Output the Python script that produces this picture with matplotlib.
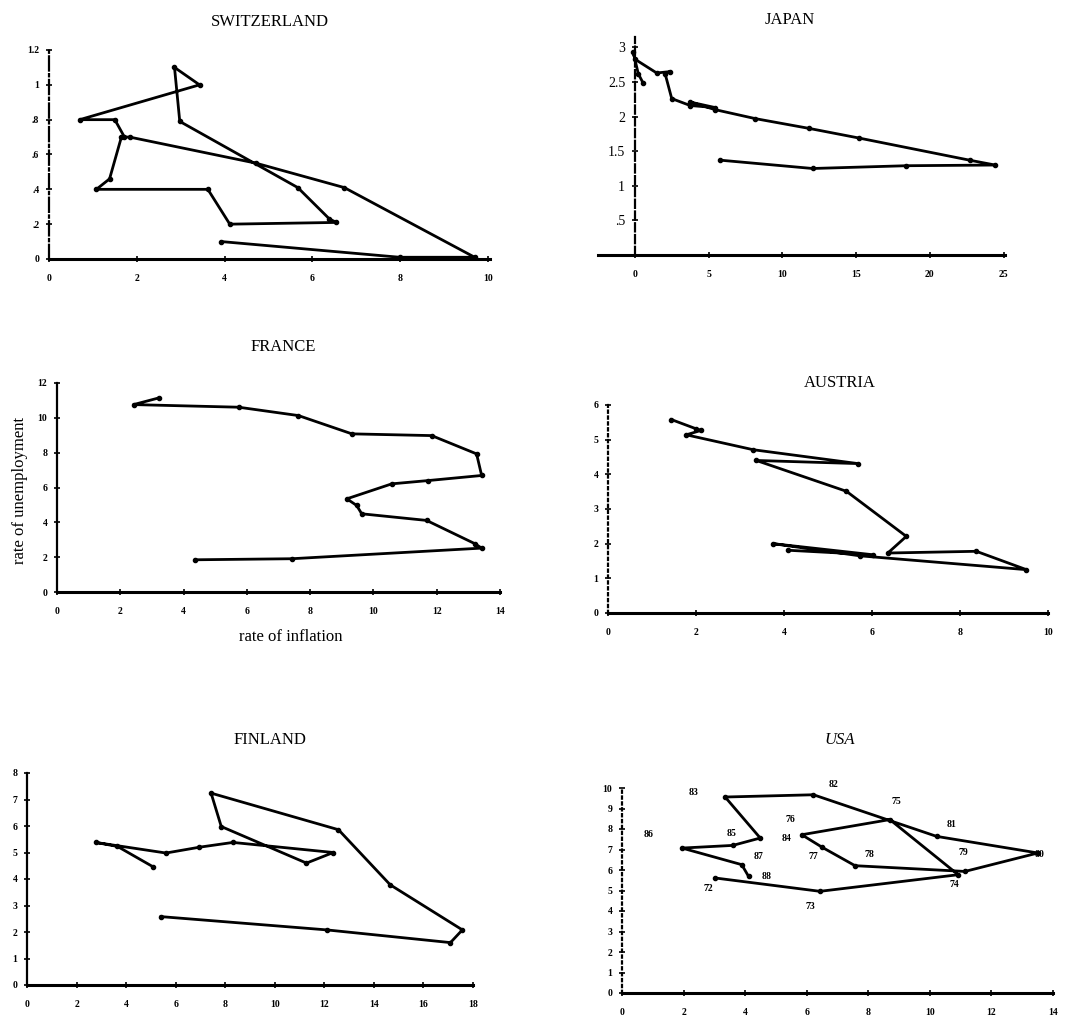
import matplotlib.pyplot as plt

plt.rcParams['font.family'] = ['Liberation Serif', 'DejaVu Serif']

# ── data (inflation %, unemployment %) ───────────────────────
swiss_infl = [3.93, 7.99, 9.70, 6.73, 4.72, 1.84, 1.65, 1.38, 1.08, 3.62, 4.12,
              6.55, 6.39, 5.67, 2.98, 2.86, 3.43, 0.70, 1.50, 1.72]
swiss_unemp = [0.10, 0.01, 0.01, 0.41, 0.55, 0.70, 0.70, 0.46, 0.40, 0.40, 0.20,
               0.21, 0.23, 0.41, 0.79, 1.10, 1.00, 0.80, 0.80, 0.70]

japan_infl = [5.80, 12.05, 18.4, 24.43, 22.7, 15.2, 11.8, 8.18, 5.45, 3.75, 5.45,
              3.75, 2.50, 2.05, 2.39, 1.48, 0.0, -0.11, 0.23, 0.57]
japan_unemp = [1.37, 1.25, 1.29, 1.30, 1.37, 1.69, 1.83, 1.97, 2.10, 2.21, 2.13,
               2.16, 2.26, 2.62, 2.65, 2.63, 2.83, 2.93, 2.62, 2.48]

france_infl = [4.37, 7.42, 13.42, 13.21, 11.68, 9.63, 9.47, 9.16, 10.58, 11.74,
               13.42, 13.26, 11.84, 9.32, 7.63, 5.74, 2.42, 3.21]
france_unemp = [1.85, 1.91, 2.52, 2.77, 4.11, 4.49, 4.97, 5.35, 6.21, 6.40,
                6.69, 7.93, 8.98, 9.08, 10.13, 10.61, 10.76, 11.14]

austria_infl = [4.09, 6.02, 3.75, 5.72, 9.51, 8.37, 6.36, 6.78, 5.42, 3.37, 5.68,
                3.30, 1.78, 2.12, 2.01, 1.44]
austria_unemp = [1.81, 1.68, 2.00, 1.65, 1.25, 1.78, 1.73, 2.21, 3.51, 4.40, 4.31,
                 4.71, 5.14, 5.27, 5.31, 5.58]

finland_infl = [5.07, 3.65, 2.77, 5.61, 6.96, 8.31, 12.36, 11.28, 7.84, 7.43,
                12.57, 14.66, 17.57, 17.09, 12.09, 5.41]
finland_unemp = [4.47, 5.23, 5.38, 4.98, 5.20, 5.38, 5.00, 4.60, 5.98, 7.24,
                 5.86, 3.78, 2.08, 1.60, 2.08, 2.58]

usa_years = ["72", "73", "74", "75", "76", "77", "78", "79", "80", "81", "82",
             "83", "84", "85", "86", "87", "88"]
usa_infl = [3.03, 6.43, 10.92, 8.70, 5.84, 6.50, 7.57, 11.14, 13.51, 10.22, 6.22,
            3.35, 4.49, 3.60, 1.95, 3.89, 4.11]
usa_unemp = [5.61, 4.96, 5.77, 8.46, 7.72, 7.11, 6.21, 5.93, 6.83, 7.64, 9.67,
             9.56, 7.56, 7.20, 7.07, 6.26, 5.69]
# where the year labels sit
usa_lab_x = [2.81, 6.11, 10.81, 8.92, 5.46, 6.22, 8.05, 11.08, 13.57, 10.70, 6.86,
             2.32, 5.35, 3.57, 0.86, 4.43, 4.70]
usa_lab_y = [5.12, 4.23, 5.28, 9.35, 8.46, 6.67, 6.75, 6.83, 6.75, 8.21, 10.16,
             9.76, 7.56, 7.80, 7.72, 6.67, 5.69]

W, H = 1066, 1019
fig = plt.figure(figsize=(W / 100, H / 100), dpi=100)


def panel(l, r, b, t, xlim, ylim, xticks, yticks, xlabs, ylabs, left_style='-'):
    ax = fig.add_axes([l / W, 1 - b / H, (r - l) / W, (b - t) / H])
    ax.set_xlim(*xlim)
    ax.set_ylim(*ylim)
    for s in ['top', 'right']:
        ax.spines[s].set_visible(False)
    ax.spines['bottom'].set_linewidth(2.2)
    ax.spines['left'].set_linewidth(1.6)
    ax.spines['left'].set_linestyle(left_style)
    ax.set_xticks(xticks)
    ax.set_xticklabels(xlabs, fontsize=7, fontweight='bold')
    ax.set_yticks(yticks)
    ax.set_yticklabels(ylabs, fontsize=7, fontweight='bold')
    ax.tick_params(axis='x', direction='inout', length=4, width=1.2, pad=9)
    ax.tick_params(axis='y', direction='inout', length=4, width=1.2, pad=5)
    ax.patch.set_alpha(0)
    return ax


def curve(ax, x, y):
    ax.plot(x, y, '-', color='black', lw=2.0, marker='o', ms=3,
            solid_joinstyle='round', clip_on=False)


# ── Switzerland ──────────────────────────────────────────────
ax = panel(49, 490, 259, 50, (0, 10.05), (0, 1.2), range(0, 11, 2),
           [0, .2, .4, .6, .8, 1.0, 1.2], ['0', '2', '4', '6', '8', '10'],
           ['0', '.2', '.4', '.6', '.8', '1', '1.2'], left_style='-.')
curve(ax, swiss_infl, swiss_unemp)
fig.text(270 / W, 1 - 22 / H, 'SWITZERLAND', ha='center', va='center', fontsize=12)

# ── Japan ────────────────────────────────────────────────────
ax = panel(598, 1005, 255, 37, (-2.5, 25.1), (0, 3.15), range(0, 26, 5),
           [0.5, 1, 1.5, 2, 2.5, 3], ['0', '5', '10', '15', '20', '25'],
           ['.5', '1', '1.5', '2', '2.5', '3'], left_style='--')
ax.spines['left'].set_position(('data', 0))
curve(ax, japan_infl, japan_unemp)
fig.text(790 / W, 1 - 20 / H, 'JAPAN', ha='center', va='center', fontsize=12)

# ── France ───────────────────────────────────────────────────
ax = panel(57, 500, 592, 383, (0, 14), (0, 12), range(0, 15, 2), range(0, 13, 2),
           [str(v) for v in range(0, 15, 2)], [str(v) for v in range(0, 13, 2)])
curve(ax, france_infl, france_unemp)
fig.text(283 / W, 1 - 347 / H, 'FRANCE', ha='center', va='center', fontsize=12)
fig.text(20 / W, 1 - 490 / H, 'rate of unemployment', rotation=90, ha='center',
         va='center', fontsize=12)
fig.text(291 / W, 1 - 637 / H, 'rate of inflation', ha='center', va='center',
         fontsize=12)

# ── Austria ──────────────────────────────────────────────────
ax = panel(608, 1048, 613, 405, (0, 10), (0, 6), range(0, 11, 2), range(0, 7),
           [str(v) for v in range(0, 11, 2)], [str(v) for v in range(0, 7)],
           left_style=':')
curve(ax, austria_infl, austria_unemp)
fig.text(840 / W, 1 - 383 / H, 'AUSTRIA', ha='center', va='center', fontsize=12)

# ── Finland ──────────────────────────────────────────────────
ax = panel(27, 473, 985, 773, (0, 18), (0, 8), range(0, 19, 2), range(0, 9),
           [str(v) for v in range(0, 19, 2)], [str(v) for v in range(0, 9)])
curve(ax, finland_infl, finland_unemp)
fig.text(270 / W, 1 - 740 / H, 'FINLAND', ha='center', va='center', fontsize=12)

# ── USA ──────────────────────────────────────────────────────
ax = panel(622, 1053, 993, 788, (0, 14), (0, 10), range(0, 15, 2), range(0, 11),
           [str(v) for v in range(0, 15, 2)], [str(v) for v in range(0, 11)],
           left_style=':')
curve(ax, usa_infl, usa_unemp)
for lab, lx, ly in zip(usa_years, usa_lab_x, usa_lab_y):
    ax.text(lx, ly, lab, ha='center', va='center', fontsize=7, fontweight='bold')
fig.text(840 / W, 1 - 740 / H, 'USA', ha='center', va='center', fontsize=12,
         style='italic')

fig.savefig('out.png', dpi=100)
